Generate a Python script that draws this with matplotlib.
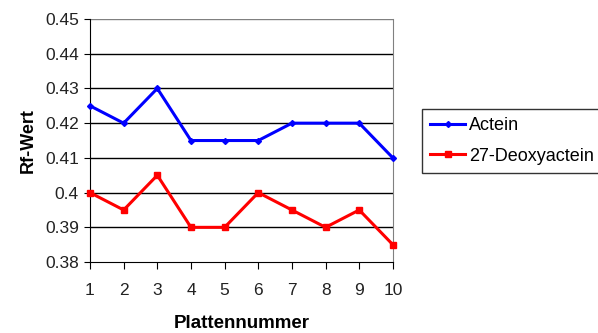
import matplotlib
matplotlib.use("Agg")
import matplotlib.pyplot as plt

plates = [1, 2, 3, 4, 5, 6, 7, 8, 9, 10]
actein = [0.425, 0.42, 0.43, 0.415, 0.415, 0.415, 0.42, 0.42, 0.42, 0.41]
deoxy = [0.40, 0.395, 0.405, 0.39, 0.39, 0.40, 0.395, 0.39, 0.395, 0.385]
yticks = [0.38, 0.39, 0.40, 0.41, 0.42, 0.43, 0.44, 0.45]
ytick_labels = ["0.38", "0.39", "0.4", "0.41", "0.42", "0.43", "0.44", "0.45"]

plt.rcParams['font.family'] = ['Liberation Sans', 'DejaVu Sans']

fig = plt.figure(figsize=(5.98, 3.33), dpi=100)
ax = fig.add_axes([0.1505, 0.213, 0.5065, 0.730])

ax.plot(plates, actein, color='#0000ff', lw=2.2, marker='D', ms=3, label='Actein', clip_on=False, zorder=3)
ax.plot(plates, deoxy, color='#ff0000', lw=2.2, marker='s', ms=4, label='27-Deoxyactein', clip_on=False, zorder=3)

ax.set_xlim(1, 10)
ax.set_ylim(0.38, 0.45)
ax.set_xticks(plates)
ax.set_xticklabels([str(p) for p in plates])
ax.set_yticks(yticks)
ax.set_yticklabels(ytick_labels)
for y in yticks[1:-1]:
    ax.axhline(y, color='black', lw=1, zorder=1)
ax.axhline(0.45, color='#808080', lw=1, zorder=1)

ax.spines['top'].set_visible(False)
ax.spines['right'].set_color('#808080')
ax.spines['left'].set_color('black')
ax.spines['bottom'].set_color('black')
ax.tick_params(axis='x', direction='out', length=5, color='black', labelsize=12.5, pad=10, labelcolor='#222222')
ax.tick_params(axis='y', direction='out', length=4, color='black', labelsize=12.5, pad=4, labelcolor='#222222')

ax.set_xlabel('Plattennummer', fontsize=13.5, fontweight='bold', labelpad=12)
ax.set_ylabel('Rf-Wert', fontsize=13, fontweight='bold', labelpad=6)

leg = ax.legend(loc='upper left', bbox_to_anchor=(1.096, 0.63), frameon=True, fancybox=False,
                edgecolor='black', fontsize=13, handlelength=1.95, handletextpad=0.22,
                borderpad=0.45, labelspacing=0.75, borderaxespad=0)
leg.get_frame().set_linewidth(1)

fig.savefig('out.png', dpi=100)
